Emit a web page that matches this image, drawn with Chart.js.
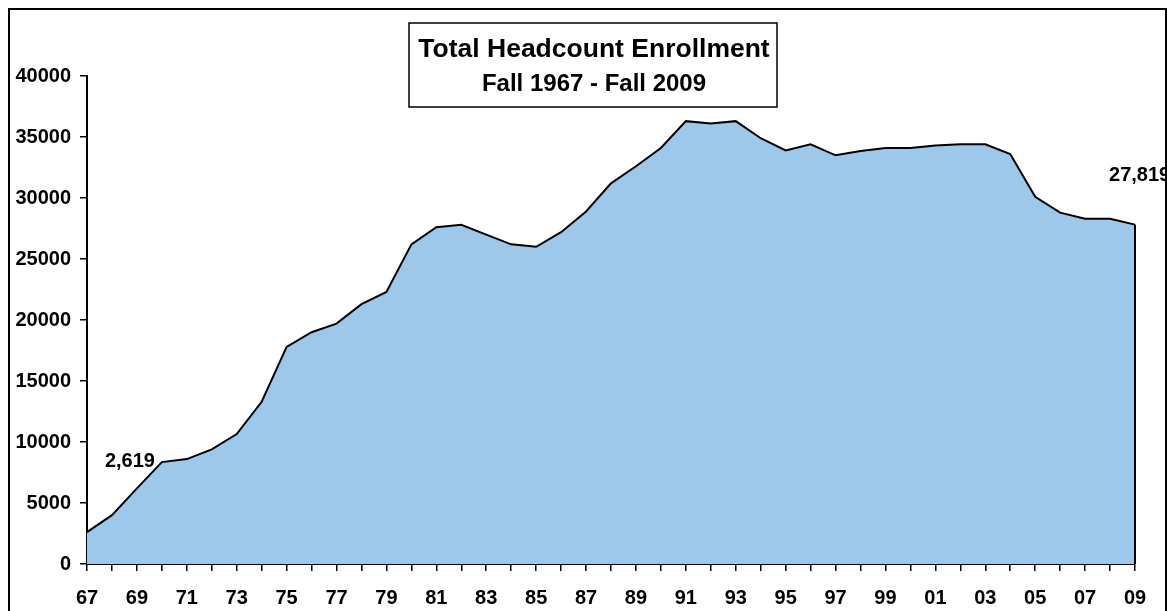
<!DOCTYPE html>
<html>
<head>
<meta charset="utf-8">
<script src="https://cdn.jsdelivr.net/npm/chart.js@4.4.1/dist/chart.umd.min.js"></script>
<style>
    html, body { margin: 0; padding: 0; background: #fff; }
    #wrap { width: 1167px; height: 611px; position: relative; }
</style>
</head>
<body>
<div id="wrap"><canvas id="chartEnrollment"></canvas></div>
<script>
// fall terms 1967 .. 2009 (two-digit year labels)
const years = [
    "67", "68", "69", "70", "71", "72", "73", "74", "75", "76",
    "77", "78", "79", "80", "81", "82", "83", "84", "85", "86",
    "87", "88", "89", "90", "91", "92", "93", "94", "95", "96",
    "97", "98", "99", "00", "01", "02", "03", "04", "05", "06",
    "07", "08", "09"
];

// total headcount per fall term
const enrollment = [
    2619, 4000, 6200, 8350, 8600, 9400, 10650, 13300, 17800, 19000,
    19700, 21300, 22300, 26200, 27600, 27800, 27000, 26200, 26000, 27200,
    28900, 31200, 32600, 34100, 36300, 36100, 36300, 34900, 33900, 34400,
    33500, 33850, 34100, 34100, 34300, 34400, 34400, 33600, 30100, 28800,
    28300, 28300, 27819
];

const yMin = 0;
const yMax = 40000;
const yStep = 5000;

const titulo = "Total Headcount Enrollment";
const subtitulo = "Fall 1967 - Fall 2009";

const fuente = "'Liberation Sans', Arial, sans-serif";

function fmtMiles(n) {
    return n.toLocaleString("en-US");
}

const decorPlugin = {
    id: "decor",
    beforeDraw(chart) {
        const ctx = chart.ctx;
        ctx.save();
        ctx.fillStyle = "#fff";
        ctx.fillRect(0, 0, chart.width, chart.height);
        ctx.restore();
    },
    afterDatasetsDraw(chart) {
        const { ctx, scales: { x, y } } = chart;
        const last = enrollment.length - 1;

        // right edge of the area
        ctx.save();
        ctx.strokeStyle = "#000";
        ctx.lineWidth = 2;
        ctx.beginPath();
        ctx.moveTo(x.getPixelForValue(last), y.getPixelForValue(enrollment[last]));
        ctx.lineTo(x.getPixelForValue(last), y.getPixelForValue(0));
        ctx.stroke();

        // first / last value notes
        ctx.fillStyle = "#000";
        ctx.font = "bold 20px " + fuente;
        ctx.textBaseline = "middle";
        ctx.textAlign = "center";
        ctx.fillText(fmtMiles(enrollment[0]), x.getPixelForValue(1.72), y.getPixelForValue(8400));
        ctx.textAlign = "left";
        ctx.fillText(fmtMiles(enrollment[last]), x.getPixelForValue(40.96), y.getPixelForValue(31850));
        ctx.restore();
    },
    afterDraw(chart) {
        const ctx = chart.ctx;
        ctx.save();
        ctx.strokeStyle = "#000";
        ctx.lineWidth = 2;
        // outer frame
        ctx.strokeRect(9, 9, 1157, 700);

        // title box
        ctx.fillStyle = "#fff";
        ctx.fillRect(409, 23, 368, 84);
        ctx.lineWidth = 1.5;
        ctx.strokeRect(409, 23, 368, 84);

        ctx.fillStyle = "#000";
        ctx.textAlign = "center";
        ctx.textBaseline = "middle";
        ctx.font = "bold 26.5px " + fuente;
        ctx.fillText(titulo, 594, 50);
        ctx.font = "bold 24px " + fuente;
        ctx.fillText(subtitulo, 594, 84);
        ctx.restore();
    }
};

const ctx = document.getElementById("chartEnrollment");

const chartEnrollment = new Chart(ctx, {
    type: "line",
    data: {
        labels: years,
        datasets: [{
            label: "Headcount",
            data: enrollment,
            fill: "origin",
            backgroundColor: "#9dc8ea",
            borderColor: "#000",
            borderWidth: 2,
            pointRadius: 0,
            tension: 0
        }]
    },
    options: {
        responsive: true,
        maintainAspectRatio: false,
        animation: false,
        layout: { padding: { top: 76, right: 32, left: 0, bottom: 0 } },
        plugins: {
            legend: { display: false },
            tooltip: { enabled: false },
            title: { display: false }
        },
        scales: {
            x: {
                offset: false,
                border: { color: "#000", width: 2 },
                grid: {
                    drawOnChartArea: false,
                    drawTicks: true,
                    tickLength: 7,
                    color: "#000",
                    lineWidth: 1.5
                },
                ticks: {
                    autoSkip: false,
                    maxRotation: 0,
                    padding: 15,
                    color: "#000",
                    font: { family: fuente, size: 20, weight: "bold" },
                    callback: function (val, idx) {
                        return idx % 2 === 0 ? years[idx] : "";
                    }
                },
                afterFit(scale) { scale.height = 47; }
            },
            y: {
                min: yMin,
                max: yMax,
                border: { color: "#000", width: 2 },
                grid: {
                    drawOnChartArea: false,
                    drawTicks: true,
                    tickLength: 7,
                    color: "#000",
                    lineWidth: 1.5
                },
                ticks: {
                    stepSize: yStep,
                    padding: 9,
                    color: "#000",
                    font: { family: fuente, size: 20, weight: "bold" },
                    callback: v => String(v)
                },
                afterFit(scale) { scale.width = 87; }
            }
        }
    },
    plugins: [decorPlugin]
});
</script>
</body>
</html>
